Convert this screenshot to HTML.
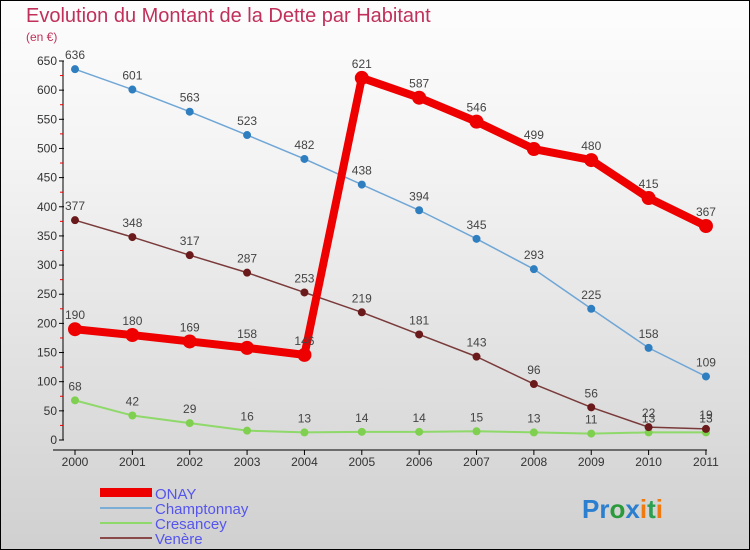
<!DOCTYPE html>
<html><head><meta charset="utf-8"><style>
body{margin:0}
#c{width:750px;height:550px;position:relative;box-sizing:border-box;border:1px solid #000;background:linear-gradient(#fdfdfd,#f3f3f3 30%,#d0d0d0);font-family:"Liberation Sans",sans-serif}
</style></head><body>
<div id="c">
<svg id="s" width="748" height="548" viewBox="1 1 748 548" style="position:absolute;left:0;top:0">
<text x="26" y="22" font-size="20" fill="#c0305a">Evolution du Montant de la Dette par Habitant</text>
<text x="26" y="41" font-size="12" fill="#c0305a">(en €)</text>
<g id="axes"></g><g id="series"></g>
<g>
<rect x="100" y="488" width="52" height="9" fill="#e00"/>
<text x="155" y="499" font-size="15" fill="#5555ee">ONAY</text>
<rect x="100" y="507" width="52" height="2" fill="#7aaed6"/>
<text x="155" y="514" font-size="15" fill="#5555ee">Champtonnay</text>
<rect x="100" y="522" width="52" height="2" fill="#8fd86a"/>
<text x="155" y="529" font-size="15" fill="#5555ee">Cresancey</text>
<rect x="100" y="537" width="52" height="2" fill="#8b4a4a"/>
<text x="155" y="544" font-size="15" fill="#5555ee">Venère</text>
</g>
<text x="582" y="518" font-size="26" font-weight="bold"><tspan fill="#2a7fd0">Pr</tspan><tspan fill="#2a9a3a">o</tspan><tspan fill="#2a7fd0">x</tspan><tspan fill="#f07a10">i</tspan><tspan fill="#2aa050">t</tspan><tspan fill="#f07a10">i</tspan></text>
</svg>
</div>
<script>
const years=["2000","2001","2002","2003","2004","2005","2006","2007","2008","2009","2010","2011"];
const yTicks=[0,50,100,150,200,250,300,350,400,450,500,550,600,650];
const onay=[190,180,169,158,146,621,587,546,499,480,415,367];
const champtonnay=[636,601,563,523,482,438,394,345,293,225,158,109];
const cresancey=[68,42,29,16,13,14,14,15,13,11,13,13];
const venere=[377,348,317,287,253,219,181,143,96,56,22,19];
const NS="http://www.w3.org/2000/svg";
const X=i=>75+i*57.36, Y=v=>440-v*0.5831;
function mk(t,a,p){const e=document.createElementNS(NS,t);for(const k in a)e.setAttribute(k,a[k]);p.appendChild(e);return e;}
const ax=document.getElementById('axes'),sr=document.getElementById('series');
let e=mk('line',{x1:63,y1:Y(650),x2:63,y2:440,stroke:'#000'},ax);


e=mk('line',{x1:53,y1:450,x2:707,y2:450,stroke:'#000'},ax);


yTicks.forEach(v=>{mk('line',{x1:59,x2:64,y1:Y(v),y2:Y(v),stroke:'#000'},ax);
 if(v<650)mk('line',{x1:60,x2:63,y1:Y(v+25),y2:Y(v+25),stroke:'#e00'},ax);
 const t=mk('text',{x:57,y:Y(v)+4,'text-anchor':'end','font-size':12,fill:'#333'},ax);t.textContent=v;
 
 });
years.forEach((y,i)=>{mk('line',{x1:X(i),x2:X(i),y1:450,y2:455,stroke:'#000'},ax);
 const t=mk('text',{x:X(i),y:466,'text-anchor':'middle','font-size':12,fill:'#333'},ax);t.textContent=y;
 
 });
function series(d,col,w,r,name,fill){
 const g=mk('g',{},sr);
 
 
 mk('polyline',{points:d.map((v,i)=>X(i)+','+Y(v)).join(' '),fill:'none',stroke:col,'stroke-width':w,'stroke-linejoin':'round'},g);
 d.forEach((v,i)=>{const c=mk('circle',{cx:X(i),cy:Y(v),r:r,fill:fill},g);
  
  
  const t=mk('text',{x:X(i),y:Y(v)-10,'text-anchor':'middle','font-size':12,fill:'#444'},g);t.textContent=v;
  
  });
}
series(champtonnay,'#6fa6d6',1.5,4,'champtonnay','#2f7fc0');
series(cresancey,'#8fd86a',2,4,'cresancey','#7fd050');
series(venere,'#7a3a3a',1.5,4,'venere','#6a1a1a');
series(onay,'#e00',8,7,'onay','#e00');
</script>
</body></html>
